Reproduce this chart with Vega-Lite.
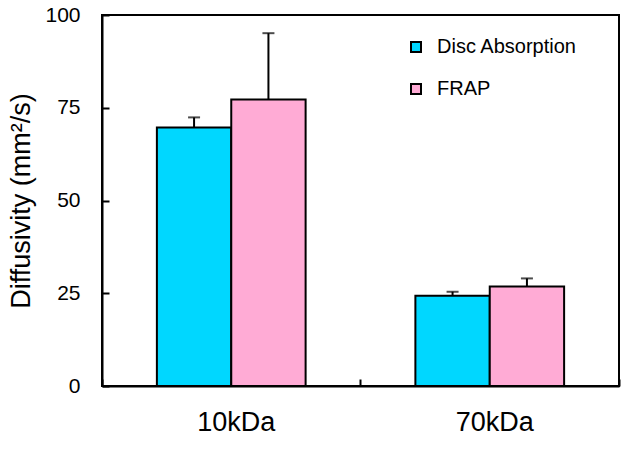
{
  "$schema": "https://vega.github.io/schema/vega-lite/v6.json",
  "autosize": "none",
  "width": 517,
  "height": 371,
  "padding": {"left": 102, "top": 15, "right": 10, "bottom": 63},
  "background": "white",
  "config": {
    "font": "Liberation Sans",
    "view": {"stroke": "black", "strokeWidth": 2},
    "axis": {"domainColor": "black", "domainWidth": 2, "tickColor": "black", "tickWidth": 2, "labelColor": "black", "titleColor": "black", "grid": false, "labelFont": "Liberation Sans", "titleFont": "Liberation Sans"}
  },
  "data": {
    "values": [
      {"size": "10kDa", "method": "Disc Absorption", "value": 69.7, "err": 72.4},
      {"size": "10kDa", "method": "FRAP", "value": 77.2, "err": 95.1},
      {"size": "70kDa", "method": "Disc Absorption", "value": 24.3, "err": 25.4},
      {"size": "70kDa", "method": "FRAP", "value": 26.8, "err": 29.0}
    ]
  },
  "encoding": {
    "x": {
      "field": "size", "type": "nominal",
      "scale": {"paddingInner": 0, "paddingOuter": 0},
      "axis": {"title": null, "labelAngle": 0, "labelFontSize": 27, "labelPadding": 30, "labelOffset": 5, "tickSize": -7, "bandPosition": 1, "tickExtra": true}
    },
    "xOffset": {"field": "method", "type": "nominal", "scale": {"paddingInner": 0, "paddingOuter": 0.738}}
  },
  "layer": [
    {
      "mark": {"type": "rule", "stroke": "black", "strokeWidth": 2},
      "encoding": {
        "y": {"field": "value", "type": "quantitative"},
        "y2": {"field": "err"}
      }
    },
    {
      "mark": {"type": "tick", "color": "black", "thickness": 2, "size": 12},
      "encoding": {
        "y": {"field": "err", "type": "quantitative"}
      }
    },
    {
      "mark": {"type": "bar", "stroke": "black", "strokeWidth": 2},
      "encoding": {
        "y": {
          "field": "value", "type": "quantitative",
          "scale": {"domain": [0, 100], "nice": false},
          "axis": {"values": [0, 25, 50, 75, 100], "title": "Diffusivity (mm²/s)", "titleFontSize": 27, "titleFontWeight": "normal", "titlePadding": 9, "labelFontSize": 21, "labelPadding": 29, "tickSize": -7}
        },
        "color": {
          "field": "method", "type": "nominal",
          "scale": {"domain": ["Disc Absorption", "FRAP"], "range": ["#00D7FF", "#FFABD5"]},
          "legend": {"title": null, "orient": "none", "legendX": 304, "legendY": 22, "symbolType": "square", "symbolSize": 100, "symbolStrokeColor": "black", "symbolStrokeWidth": 2, "labelFontSize": 20, "labelColor": "black", "rowPadding": 22, "labelOffset": 11, "symbolOpacity": 1}
        }
      }
    }
  ]
}
